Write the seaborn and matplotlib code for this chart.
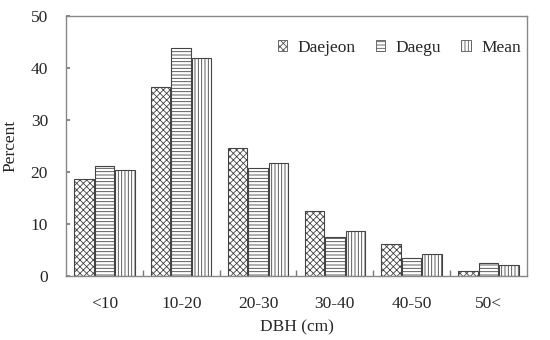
import matplotlib
matplotlib.use("Agg")
import matplotlib.pyplot as plt
import seaborn as sns
import pandas as pd
from matplotlib.patches import Patch

categories = ["<10", "10-20", "20-30", "30-40", "40-50", "50<"]
daejeon = [18.6, 36.4, 24.6, 12.5, 6.2, 1.0]
daegu = [21.1, 43.9, 20.8, 7.5, 3.5, 2.5]
mean = [20.4, 42.0, 21.8, 8.7, 4.2, 2.2]
series_names = ["Daejeon", "Daegu", "Mean"]

rows = []
for name, vals in zip(series_names, [daejeon, daegu, mean]):
    for c, v in zip(categories, vals):
        rows.append({"DBH": c, "Percent": v, "Site": name})
df = pd.DataFrame(rows)

sns.set_theme(style="white")
plt.rcParams["font.family"] = ["Liberation Serif", "DejaVu Serif"]
plt.rcParams["hatch.linewidth"] = 0.6
plt.rcParams["hatch.color"] = "#555555"

fig, ax = plt.subplots(figsize=(5.5, 3.4), dpi=100)
fig.subplots_adjust(left=0.12, right=0.958, top=0.953, bottom=0.188)

sns.barplot(data=df, x="DBH", y="Percent", hue="Site", order=categories,
            hue_order=series_names, width=0.8, gap=0.05, ax=ax,
            palette=["white"] * 3, edgecolor="#444444", linewidth=0.8,
            legend=False)

hatches = ["xxxxx", "-----", "|||||"]
for cont, h in zip(ax.containers, hatches):
    for bar in cont:
        bar.set_hatch(h)
        bar.set_facecolor("white")
        bar.set_edgecolor("#444444")

FS = 12.5
ax.set_ylim(0, 50)
ax.set_xlim(-0.5, len(categories) - 0.5)
ax.set_yticks(range(0, 51, 10))
ax.tick_params(axis="y", direction="in", length=3, left=True, labelsize=FS,
               color="#777777", pad=13)
ax.set_xticks(range(len(categories)))
ax.set_xticklabels(categories)
ax.tick_params(axis="x", length=0, labelsize=FS, pad=14)
ax.set_xticks([i + 0.5 for i in range(len(categories) - 1)], minor=True)
ax.tick_params(axis="x", which="minor", direction="in", length=4, bottom=True, color="#777777")

for s in ax.spines.values():
    s.set_color("#888888")
    s.set_linewidth(1.0)

ax.set_xlabel("DBH (cm)", fontsize=FS, labelpad=6)
ax.set_ylabel("Percent", fontsize=FS, labelpad=9)

handles = [Patch(facecolor="white", edgecolor="#555555", hatch=h, linewidth=0.6) for h in hatches]
ax.legend(handles, series_names, loc="center right", ncol=3, frameon=False,
          fontsize=FS, bbox_to_anchor=(0.987, 0.877), borderaxespad=0, borderpad=0,
          handlelength=0.55, handleheight=0.6, handletextpad=0.6, columnspacing=1.15)

fig.savefig("out.png", dpi=100)
